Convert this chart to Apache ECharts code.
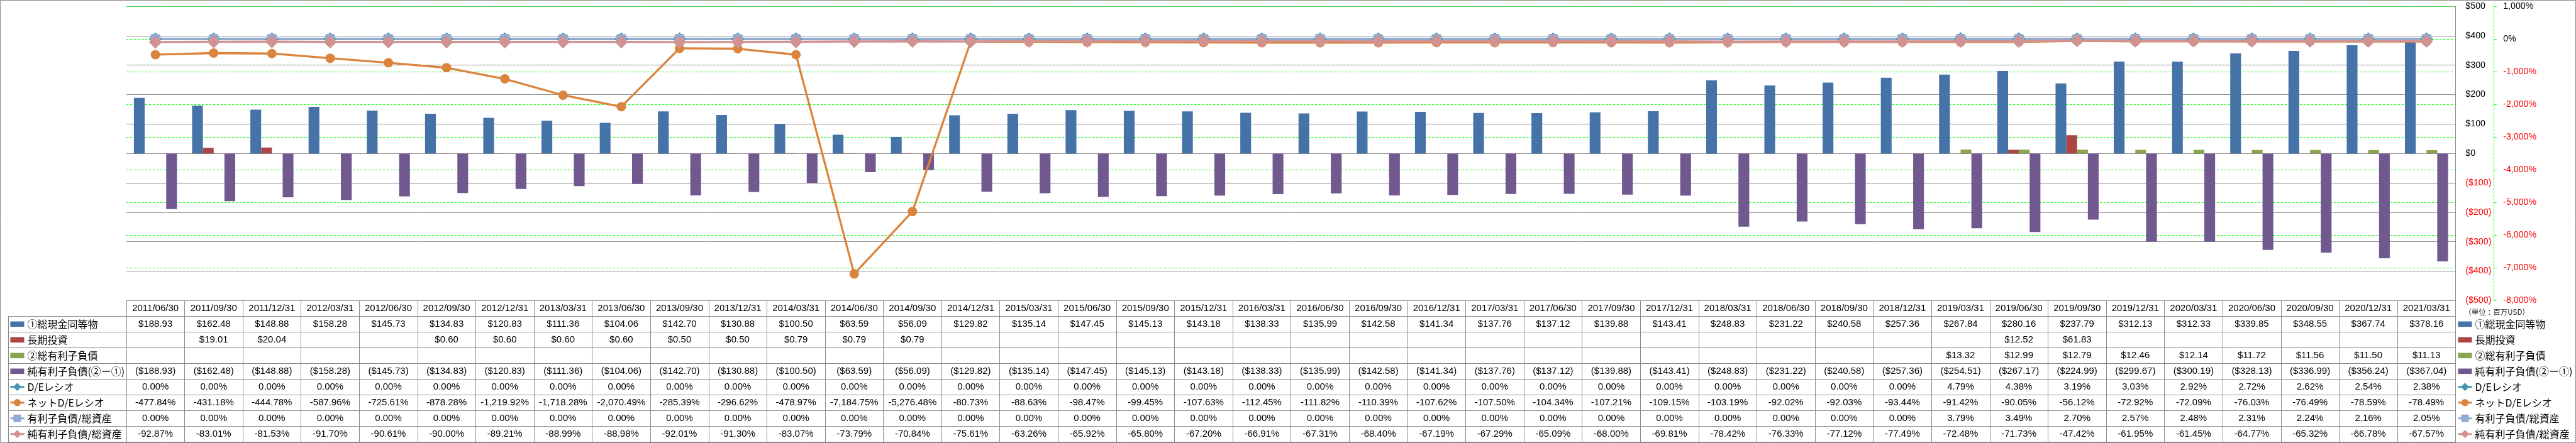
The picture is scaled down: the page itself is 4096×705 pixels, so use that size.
<!DOCTYPE html>
<html><head><meta charset="utf-8">
<script src="https://cdn.jsdelivr.net/npm/echarts@6/dist/echarts.min.js"></script>
<style>html,body{margin:0;padding:0;background:#fff;}#c{width:4096px;height:705px;}</style>
</head><body><div id="c"></div>
<script>
// ---------------- data ----------------
const dates = ['2011/06/30','2011/09/30','2011/12/31','2012/03/31','2012/06/30','2012/09/30','2012/12/31','2013/03/31','2013/06/30','2013/09/30','2013/12/31','2014/03/31','2014/06/30','2014/09/30','2014/12/31','2015/03/31','2015/06/30','2015/09/30','2015/12/31','2016/03/31','2016/06/30','2016/09/30','2016/12/31','2017/03/31','2017/06/30','2017/09/30','2017/12/31','2018/03/31','2018/06/30','2018/09/30','2018/12/31','2019/03/31','2019/06/30','2019/09/30','2019/12/31','2020/03/31','2020/06/30','2020/09/30','2020/12/31','2021/03/31'];
const cash = [188.93,162.48,148.88,158.28,145.73,134.83,120.83,111.36,104.06,142.70,130.88,100.50,63.59,56.09,129.82,135.14,147.45,145.13,143.18,138.33,135.99,142.58,141.34,137.76,137.12,139.88,143.41,248.83,231.22,240.58,257.36,267.84,280.16,237.79,312.13,312.33,339.85,348.55,367.74,378.16];
const longInv = [null,19.01,20.04,null,null,0.60,0.60,0.60,0.60,0.50,0.50,0.79,0.79,0.79,null,null,null,null,null,null,null,null,null,null,null,null,null,null,null,null,null,null,12.52,61.83,null,null,null,null,null,null];
const debt = [null,null,null,null,null,null,null,null,null,null,null,null,null,null,null,null,null,null,null,null,null,null,null,null,null,null,null,null,null,null,null,13.32,12.99,12.79,12.46,12.14,11.72,11.56,11.50,11.13];
const netDebt = [-188.93,-162.48,-148.88,-158.28,-145.73,-134.83,-120.83,-111.36,-104.06,-142.70,-130.88,-100.50,-63.59,-56.09,-129.82,-135.14,-147.45,-145.13,-143.18,-138.33,-135.99,-142.58,-141.34,-137.76,-137.12,-139.88,-143.41,-248.83,-231.22,-240.58,-257.36,-254.51,-267.17,-224.99,-299.67,-300.19,-328.13,-336.99,-356.24,-367.04];
const deRatio = [0,0,0,0,0,0,0,0,0,0,0,0,0,0,0,0,0,0,0,0,0,0,0,0,0,0,0,0,0,0,0,4.79,4.38,3.19,3.03,2.92,2.72,2.62,2.54,2.38];
const netDeRatio = [-477.84,-431.18,-444.78,-587.96,-725.61,-878.28,-1219.92,-1718.28,-2070.49,-285.39,-296.62,-478.97,-7184.75,-5276.48,-80.73,-88.63,-98.47,-99.45,-107.63,-112.45,-111.82,-110.39,-107.62,-107.50,-104.34,-107.21,-109.15,-103.19,-92.02,-92.03,-93.44,-91.42,-90.05,-56.12,-72.92,-72.09,-76.03,-76.49,-78.59,-78.49];
const debtToAssets = [0,0,0,0,0,0,0,0,0,0,0,0,0,0,0,0,0,0,0,0,0,0,0,0,0,0,0,0,0,0,0,3.79,3.49,2.70,2.57,2.48,2.31,2.24,2.16,2.05];
const netDebtToAssets = [-92.87,-83.01,-81.53,-91.70,-90.61,-90.00,-89.21,-88.99,-88.98,-92.01,-91.30,-83.07,-73.79,-70.84,-75.61,-63.26,-65.92,-65.80,-67.20,-66.91,-67.31,-68.40,-67.19,-67.29,-65.09,-68.00,-69.81,-78.42,-76.33,-77.12,-77.49,-72.48,-71.73,-47.42,-61.95,-61.45,-64.77,-65.32,-66.78,-67.57];
const seriesNames = ['①総現金同等物','長期投資','②総有利子負債','純有利子負債(②ー①)','D/Eレシオ','ネットD/Eレシオ','有利子負債/総資産','純有利子負債/総資産'];
const usdAxis = {min:-500, max:500, interval:100};
const pctAxis = {min:-8000, max:1000, interval:1000};
const unitLabel = '（単位：百万USD）';

// ---------------- layout / style ----------------
const S = 4096/6226;
const px = v => v*S;
const COLORS = ['#4572A7','#AA4643','#89A54E','#71588F','#4198AF','#DB843D','#93A9CF','#D19392'];
const GRAY = '#8c8c8c';
const LATIN = 'Liberation Sans, Arial, sans-serif';
const CJK = 'Noto Sans CJK JP, sans-serif';

const plotL = px(305.3), plotT = px(15.3), plotW = px(5935-305.3), plotH = px(727-15.3);
const tabT = plotT + plotH, tabH = px(1069.5-727);
const rowH = tabH/9;

const money = v => v == null ? '' : (v < 0 ? '($' + (-v).toFixed(2) + ')' : '$' + v.toFixed(2));
const pct = v => v == null ? '' : v.toLocaleString('en-US',{minimumFractionDigits:2, maximumFractionDigits:2}) + '%';

const tableRows = [cash.map(money), longInv.map(money), debt.map(money), netDebt.map(money),
  deRatio.map(pct), netDeRatio.map(pct), debtToAssets.map(pct), netDebtToAssets.map(pct)];
const cellData = [], cellTexts = [];
dates.forEach((d, c) => { cellData.push([c, 0]); cellTexts.push(d); });
tableRows.forEach((arr, r) => arr.forEach((t, c) => { if (t) { cellData.push([c, r + 1]); cellTexts.push(t); } }));

// legend icons drawn in a 22 x 25 box (corner points fix the bounding box)
const BOX0 = 'M0,0L0,0', BOX1 = 'M22,25L22,25';
const ICON_BAR = 'path://' + BOX0 + 'M0,8.2L22,8.2L22,16.8L0,16.8Z' + BOX1;
const ICON_DIAMOND = 'path://' + BOX0 + 'M0,11L6,11L11,6L16,11L22,11L22,14L16,14L11,19L6,14L0,14Z' + BOX1;
const ICON_CIRCLE = 'path://' + BOX0 + 'M0,11L22,11L22,14L0,14ZM16.7,12.5A5.7,5.7 0 1 1 5.3,12.5A5.7,5.7 0 1 1 16.7,12.5Z' + BOX1;
const ICON_SQUARE = 'path://' + BOX0 + 'M0,11L5,11L5,6.5L17,6.5L17,11L22,11L22,14L17,14L17,18.5L5,18.5L5,14L0,14Z' + BOX1;
const legendIcons = [ICON_BAR, ICON_BAR, ICON_BAR, ICON_BAR, ICON_DIAMOND, ICON_CIRCLE, ICON_SQUARE, ICON_DIAMOND];
const legendData = seriesNames.map((n, i) => ({name: n, icon: legendIcons[i]}));
const legendCommon = {
  orient:'vertical', top: tabT + rowH, height: rowH*8 + 4, padding:0,
  itemWidth:22, itemHeight: rowH, itemGap: 0, symbolKeepAspect:true,
  data: legendData, selectedMode:false,
  textStyle:{fontFamily:CJK, fontSize:16, color:'#000', lineHeight:15}
};

const chart = echarts.init(document.getElementById('c'), null, {renderer:'canvas'});
const barCommon = {type:'bar', xAxisIndex:0, yAxisIndex:0, barGap:'0%', barCategoryGap:'26%'};
const lineCommon = {type:'line', xAxisIndex:0, yAxisIndex:1, showSymbol:true, showAllSymbol:true};

chart.setOption({
  animation:false,
  backgroundColor:'#fff',
  legend:[Object.assign({left: px(25)}, legendCommon), Object.assign({left: px(5941)}, legendCommon)],
  grid:[
    {left: plotL, top: plotT, width: plotW, height: plotH, containLabel:false},
    {left: plotL, top: tabT, width: plotW, height: tabH, containLabel:false},
    {left: px(20.7), top: tabT + rowH, width: plotL - px(20.7), height: rowH*8, containLabel:false}
  ],
  xAxis:[
    {type:'category', gridIndex:0, data: dates, boundaryGap:true, axisLine:{show:false}, axisTick:{show:false}, axisLabel:{show:false}, splitLine:{show:false}},
    {type:'category', gridIndex:1, data: dates, boundaryGap:true, axisLine:{show:true, lineStyle:{color:GRAY, width:1}}, axisTick:{show:false}, axisLabel:{show:false}, splitLine:{show:true, interval:0, lineStyle:{color:GRAY, width:1}}},
    {type:'category', gridIndex:2, data:['label'], boundaryGap:true, axisLine:{show:true, lineStyle:{color:GRAY, width:1}}, axisTick:{show:false}, axisLabel:{show:false}, splitLine:{show:true, interval:0, lineStyle:{color:GRAY, width:1}}}
  ],
  yAxis:[
    {type:'value', gridIndex:0, position:'right', min:usdAxis.min, max:usdAxis.max, interval:usdAxis.interval,
      axisLine:{show:true, lineStyle:{color:GRAY, width:1}}, axisTick:{show:false},
      axisLabel:{margin: px(24), fontFamily:LATIN, fontSize:14.2,
        formatter: v => v < 0 ? '($' + (-v) + ')' : '$' + v,
        color: v => (+v) < 0 ? '#FF0000' : '#000000'},
      splitLine:{show:true, lineStyle:{color:GRAY, width:1}}},
    {type:'value', gridIndex:0, position:'right', offset: px(6027-5935), min:pctAxis.min, max:pctAxis.max, interval:pctAxis.interval,
      axisLine:{show:true, lineStyle:{color:'#00FF00', width:1, type:[3,2.5]}},
      axisTick:{show:true, length: px(7), lineStyle:{color:'#00FF00', width:1}},
      axisLabel:{margin: px(23), fontFamily:LATIN, fontSize:14.2,
        formatter: v => v.toLocaleString('en-US') + '%',
        color: v => (+v) < 0 ? '#FF0000' : '#000000'},
      splitLine:{show:true, lineStyle:{color:'#00FF00', width:1, type:[3.5,2.5]}}},
    {type:'category', gridIndex:1, data:['h','1','2','3','4','5','6','7','8'], inverse:true, boundaryGap:true,
      axisLine:{show:true, lineStyle:{color:GRAY, width:1}}, axisTick:{show:false}, axisLabel:{show:false},
      splitLine:{show:true, interval:0, lineStyle:{color:GRAY, width:1}}},
    {type:'category', gridIndex:2, data:['1','2','3','4','5','6','7','8'], inverse:true, boundaryGap:true,
      axisLine:{show:true, lineStyle:{color:GRAY, width:1}}, axisTick:{show:false}, axisLabel:{show:false},
      splitLine:{show:true, interval:0, lineStyle:{color:GRAY, width:1}}}
  ],
  series:[
    Object.assign({name:seriesNames[0], data:cash, itemStyle:{color:COLORS[0]}}, barCommon),
    Object.assign({name:seriesNames[1], data:longInv, itemStyle:{color:COLORS[1]}}, barCommon),
    Object.assign({name:seriesNames[2], data:debt, itemStyle:{color:COLORS[2]}}, barCommon),
    Object.assign({name:seriesNames[3], data:netDebt, itemStyle:{color:COLORS[3]}}, barCommon),
    Object.assign({name:seriesNames[4], data:deRatio, symbol:'diamond', symbolSize:21, lineStyle:{width:3.3, color:COLORS[4]}, itemStyle:{color:COLORS[4]}}, lineCommon),
    Object.assign({name:seriesNames[5], data:netDeRatio, symbol:'circle', symbolSize:15, lineStyle:{width:3.3, color:COLORS[5]}, itemStyle:{color:COLORS[5]}}, lineCommon),
    Object.assign({name:seriesNames[6], data:debtToAssets, symbol:'roundRect', symbolSize:16, lineStyle:{width:3.5, color:COLORS[6]}, itemStyle:{color:COLORS[6]}}, lineCommon),
    Object.assign({name:seriesNames[7], data:netDebtToAssets, symbol:'diamond', symbolSize:21, lineStyle:{width:3.5, color:COLORS[7]}, itemStyle:{color:COLORS[7]}}, lineCommon),
    {type:'custom', name:'table', xAxisIndex:1, yAxisIndex:2, data: cellData, silent:true, clip:false,
      renderItem: function(params, api){
        const p = api.coord([api.value(0), api.value(1)]);
        return {type:'text', x:p[0], y:p[1], style:{text: cellTexts[params.dataIndex],
          textAlign:'center', textVerticalAlign:'middle', align:'center', verticalAlign:'middle',
          fontSize:15, fontFamily:LATIN, fill:'#000'}};
      }}
  ],
  graphic:[
    {type:'rect', silent:true, shape:{x:0.5, y:0.5, width:4095, height:704}, style:{fill:'none', stroke:GRAY, lineWidth:1}},
    {type:'text', silent:true, x: px(5956), y: px(755), style:{text: unitLabel, fontSize:11.5, fontFamily:CJK, fill:'#222',
      textAlign:'left', textVerticalAlign:'middle', align:'left', verticalAlign:'middle'}}
  ]
});
</script></body></html>
